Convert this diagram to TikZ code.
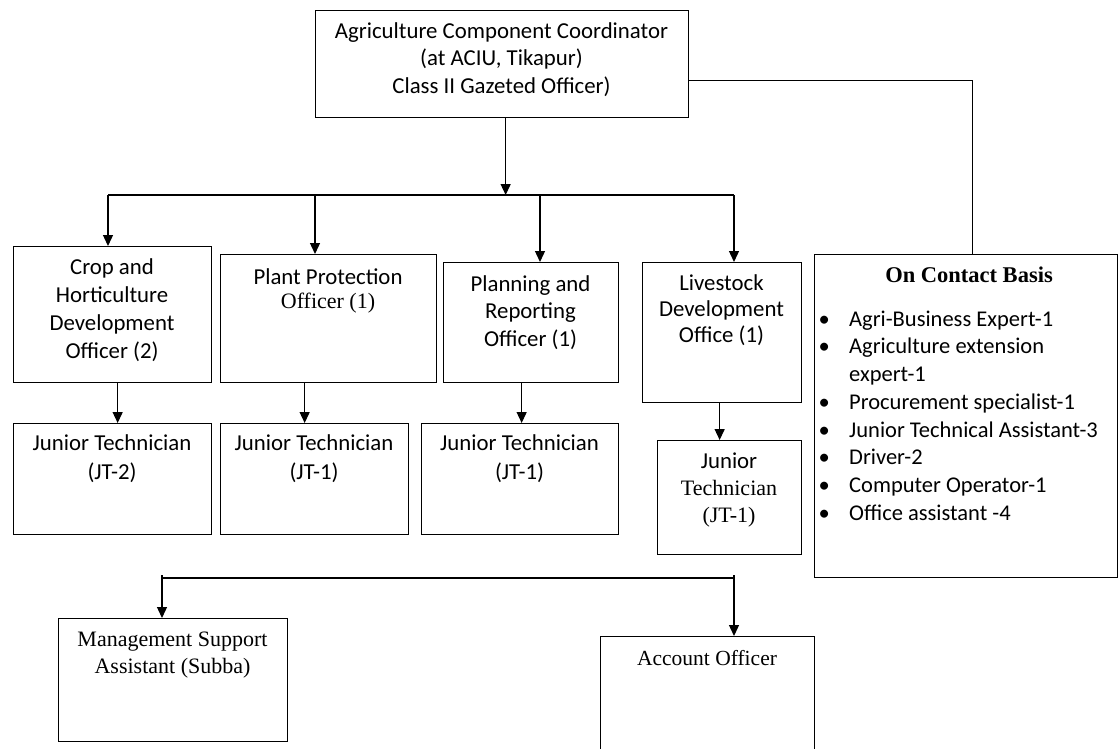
\documentclass[tikz,border=0pt]{standalone}
\usepackage{fontspec}
\setmainfont{Carlito}
\newfontfamily\serifface{Liberation Serif}
\usetikzlibrary{arrows.meta}
% fixed height of the first line, so that text nodes hang from a known baseline
\newcommand\capfix{\rule{0pt}{17pt}}
\newcommand\sertext[2][21.5]{{\serifface\fontsize{#1}{#1}\selectfont #2}}
\begin{document}
\begin{tikzpicture}[x=1pt,y=-1pt,
  box/.style={draw=black, line width=1.3pt, inner sep=0pt, anchor=north west},
  txt/.style={inner sep=0pt, anchor=north, align=center, text=black},
  link/.style={draw=black, line width=1.3pt},
  arr/.style={link, -{Triangle[width=10pt,length=11pt]}},
]
\useasboundingbox (0,0) rectangle (1119,748);
\clip (0,0) rectangle (1119,748);

% ---------- boxes ----------
\node[box, minimum width=373pt, minimum height=107pt] (top)     at (315,10)  {};
\node[box, minimum width=198pt, minimum height=136pt] (crop)    at (13,246)  {};
\node[box, minimum width=216pt, minimum height=128pt] (plant)   at (220,254) {};
\node[box, minimum width=175pt, minimum height=120pt] (plan)    at (443,262) {};
\node[box, minimum width=159pt, minimum height=140pt] (live)    at (642,262) {};
\node[box, minimum width=198pt, minimum height=111pt] (jt1)     at (13,423)  {};
\node[box, minimum width=188pt, minimum height=111pt] (jt2)     at (220,423) {};
\node[box, minimum width=197pt, minimum height=111pt] (jt3)     at (421,423) {};
\node[box, minimum width=144pt, minimum height=114pt] (jt4)     at (657,440) {};
\node[box, minimum width=303pt, minimum height=323pt] (contact) at (814,254) {};
\node[box, minimum width=229pt, minimum height=123pt] (mgmt)    at (58,618)  {};
\node[box, minimum width=214pt, minimum height=140pt] (acct)    at (600,636) {};

% ---------- texts ----------
\node[txt, font=\fontsize{22.8}{27.5}\selectfont] (ttop) at (501.5,21)
  {\capfix Agriculture Component Coordinator\\(at ACIU, Tikapur)\\Class II Gazeted Officer)};
\node[txt, font=\fontsize{22.8}{28}\selectfont] (tcrop) at (112,257)
  {\capfix Crop and\\Horticulture\\Development\\Officer (2)};
\node[txt, font=\fontsize{22.8}{24}\selectfont] (tplant) at (328,267)
  {\capfix Plant Protection\\\sertext[22]{Officer (1)}};
\node[txt, font=\fontsize{22.8}{27.5}\selectfont] (tplan) at (530.5,274)
  {\capfix Planning and\\Reporting\\Officer (1)};
\node[txt, font=\fontsize{22.8}{26}\selectfont] (tlive) at (721.5,273)
  {\capfix Livestock\\Development\\Office (1)};
\node[txt, font=\fontsize{22.8}{29}\selectfont] (tjt1) at (112,433)
  {\capfix Junior Technician\\(JT-2)};
\node[txt, font=\fontsize{22.8}{29}\selectfont] (tjt2) at (314,433)
  {\capfix Junior Technician\\(JT-1)};
\node[txt, font=\fontsize{22.8}{29}\selectfont] (tjt3) at (519.5,433)
  {\capfix Junior Technician\\(JT-1)};
\node[txt, font=\fontsize{22.8}{27}\selectfont] (tjt4) at (729,451)
  {\capfix Junior\\\sertext[22]{Technician}\\\sertext[22]{(JT-1)}};
\node[txt, font=\serifface\bfseries\fontsize{22.5}{26}\selectfont] (tcontact) at (969,265)
  {\capfix On Contact Basis};
\node[inner sep=0pt, anchor=north west, align=left, font=\fontsize{22.5}{27.7}\selectfont] (tlist) at (818,309)
  {\capfix\makebox[31pt][l]{\hspace{0.5pt}•}Agri-Business Expert-1\\
   \makebox[31pt][l]{\hspace{0.5pt}•}Agriculture extension\\
   \hspace*{31pt}expert-1\\
   \makebox[31pt][l]{\hspace{0.5pt}•}Procurement specialist-1\\
   \makebox[31pt][l]{\hspace{0.5pt}•}Junior Technical Assistant-3\\
   \makebox[31pt][l]{\hspace{0.5pt}•}Driver-2\\
   \makebox[31pt][l]{\hspace{0.5pt}•}Computer Operator-1\\
   \makebox[31pt][l]{\hspace{0.5pt}•}Office assistant -4};
\node[txt, font=\serifface\fontsize{22}{27}\selectfont] (tmgmt) at (172.5,629)
  {\capfix Management Support\\Assistant (Subba)};
\node[txt, font=\serifface\fontsize{21.5}{27}\selectfont] (tacct) at (707,648)
  {\capfix Account Officer};

% ---------- upper distribution line ----------
\coordinate (b1) at (108,195);
\coordinate (b2) at (315,195);
\coordinate (b3) at (540,195);
\coordinate (b4) at (734,195);
\coordinate (ts) at ([xshift=3.5pt]top.south);
\draw[link] (b1) -- (b4);
\draw[arr] (ts) -- (ts |- b1);
\draw[arr] (b1) -- (b1 |- crop.north);
\draw[arr] (b2) -- (b2 |- plant.north);
\draw[arr] (b3) -- (b3 |- plan.north);
\draw[arr] (b4) -- (b4 |- live.north);

% ---------- officers to junior technicians ----------
\coordinate (ca) at ([xshift=5pt]crop.south);
\coordinate (pa) at ([xshift=-24pt]plant.south);
\coordinate (la) at ([xshift=-9.5pt]plan.south);
\coordinate (va) at ([xshift=-2.5pt]live.south);
\draw[arr] (ca) -- (ca |- jt1.north);
\draw[arr] (pa) -- (pa |- jt2.north);
\draw[arr] (la) -- (la |- jt3.north);
\draw[arr] (va) -- (va |- jt4.north);

% ---------- coordinator to contract staff ----------
\coordinate (tc) at ([yshift=-16.5pt]top.east);
\coordinate (cn) at ([xshift=6.5pt]contact.north);
\draw[link] (tc) -| (cn);

% ---------- lower distribution line ----------
\coordinate (l1) at (162,578);
\coordinate (l2) at (734,578);
\draw[link] (l1) -- (l2);
\draw[arr] ([yshift=3pt]l1) -- (l1 |- mgmt.north);
\draw[arr] ([yshift=3pt]l2) -- (l2 |- acct.north);
\end{tikzpicture}
\end{document}
